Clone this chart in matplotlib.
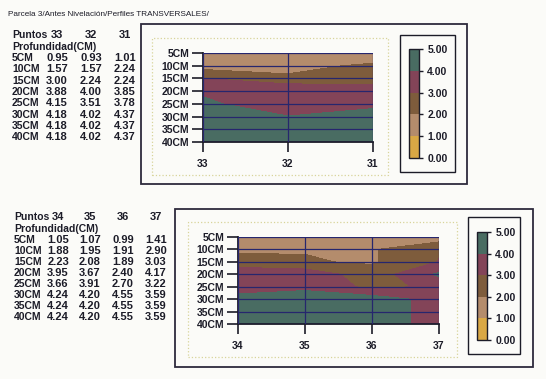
import numpy as np
import matplotlib.pyplot as plt
from matplotlib.patches import Rectangle

titulo = 'Parcela 3/Antes Nivelación/Perfiles TRANSVERSALES/'
profundidades = ['5CM', '10CM', '15CM', '20CM', '25CM', '30CM', '35CM', '40CM']
prof_cm = [5, 10, 15, 20, 25, 30, 35, 40]

puntos_1 = ['33', '32', '31']
valores_1 = [[0.95, 0.93, 1.01],
             [1.57, 1.57, 2.24],
             [3.00, 2.24, 2.24],
             [3.88, 4.00, 3.85],
             [4.15, 3.51, 3.78],
             [4.18, 4.02, 4.37],
             [4.18, 4.02, 4.37],
             [4.18, 4.02, 4.37]]

puntos_2 = ['34', '35', '36', '37']
valores_2 = [[1.05, 1.07, 0.99, 1.41],
             [1.88, 1.95, 1.91, 2.90],
             [2.23, 2.08, 1.89, 3.03],
             [3.95, 3.67, 2.40, 4.17],
             [3.66, 3.91, 2.70, 3.22],
             [4.24, 4.20, 4.55, 3.59],
             [4.24, 4.20, 4.55, 3.59],
             [4.24, 4.20, 4.55, 3.59]]

niveles = [0, 1, 2, 3, 4, 5]
colores = ['#d9a845', '#b48c6c', '#7e5c3c', '#834458', '#496c62']

W, H = 546, 379
tinta = '#1c1c28'
plt.rcParams['font.family'] = ['Liberation Sans', 'DejaVu Sans']

fig = plt.figure(figsize=(W / 100, H / 100), dpi=100)
fig.patch.set_facecolor('#fbfbf8')


def caja(x0, y0, x1, y1):
    return [x0 / W, 1 - y1 / H, (x1 - x0) / W, (y1 - y0) / H]


def marco(x0, y0, x1, y1, **kw):
    fig.patches.append(Rectangle((x0 / W, 1 - y1 / H), (x1 - x0) / W, (y1 - y0) / H,
                                 transform=fig.transFigure, fill=False, **kw))


def texto(x, y, s, ha='left', size=7.5, weight='bold'):
    fig.text(x / W, 1 - y / H, s, ha=ha, va='center', fontsize=size,
             fontweight=weight, color=tinta)


def tabla(x_lab, x_cols, y0, paso, puntos, valores):
    texto(x_lab, y0, 'Puntos')
    for xc, p in zip(x_cols, puntos):
        texto(xc, y0, p, ha='center', size=8)
    texto(x_lab, y0 + 11.5, 'Profundidad(CM)')
    for i, (lab, fila) in enumerate(zip(profundidades, valores)):
        y = y0 + 23 + i * paso
        texto(x_lab, y, lab)
        for xc, v in zip(x_cols, fila):
            texto(xc, y, f'{v:.2f}', ha='center', size=8)


def perfil(ax_box, cb_box, puntos, valores):
    ax = fig.add_axes(caja(*ax_box))
    xs = np.arange(len(puntos))
    cs = ax.contourf(xs, prof_cm, np.array(valores), levels=niveles, colors=colores)
    ax.set_xlim(0, len(puntos) - 1)
    ax.set_ylim(40, 5)
    ax.set_yticks(prof_cm, profundidades)
    ax.set_xticks(xs, puntos)
    ax.set_axisbelow(False)
    ax.grid(True, color='#26266e', lw=0.9)
    for s in ['top', 'right']:
        ax.spines[s].set_visible(False)
    for s in ['left', 'bottom']:
        ax.spines[s].set_linewidth(1.3)
        ax.spines[s].set_color(tinta)
    ax.tick_params(axis='y', length=8, width=1.2, pad=2, labelsize=7.5, colors=tinta)
    ax.tick_params(axis='x', length=7, width=1.2, pad=5, labelsize=7.5, colors=tinta)
    for t in ax.get_xticklabels() + ax.get_yticklabels():
        t.set_fontweight('bold')

    cax = fig.add_axes(caja(*cb_box))
    cb = fig.colorbar(cs, cax=cax, ticks=niveles, format='%.2f')
    cb.outline.set_edgecolor(tinta)
    cb.outline.set_linewidth(1)
    cax.tick_params(length=3, width=1, pad=3, labelsize=7.5, colors=tinta)
    for t in cax.get_yticklabels():
        t.set_fontweight('bold')


texto(8, 15, titulo, size=5.9, weight='normal')

# parte superior
tabla(12, [57, 91, 125], 35, 11.3, puntos_1, valores_1)
marco(141, 24, 467, 184, edgecolor='#2e2a3c', lw=1.3)
marco(152, 38, 388, 175, edgecolor='#d8d49a', lw=0.9, ls=':')
marco(400, 35, 455, 172, edgecolor=tinta, lw=1)
perfil((203, 53, 373, 142), (409, 49, 419, 158), puntos_1, valores_1)

# parte inferior
tabla(14, [58, 90, 123, 156], 217, 11.0, puntos_2, valores_2)
marco(175, 209, 533, 367, edgecolor='#2e2a3c', lw=1.3)
marco(188, 222, 457, 357, edgecolor='#d8d49a', lw=0.9, ls=':')
marco(468, 217, 520, 354, edgecolor=tinta, lw=1)
perfil((238, 237, 439, 324), (477, 232, 487, 340), puntos_2, valores_2)

fig.savefig('out.png', dpi=100, facecolor=fig.get_facecolor())
